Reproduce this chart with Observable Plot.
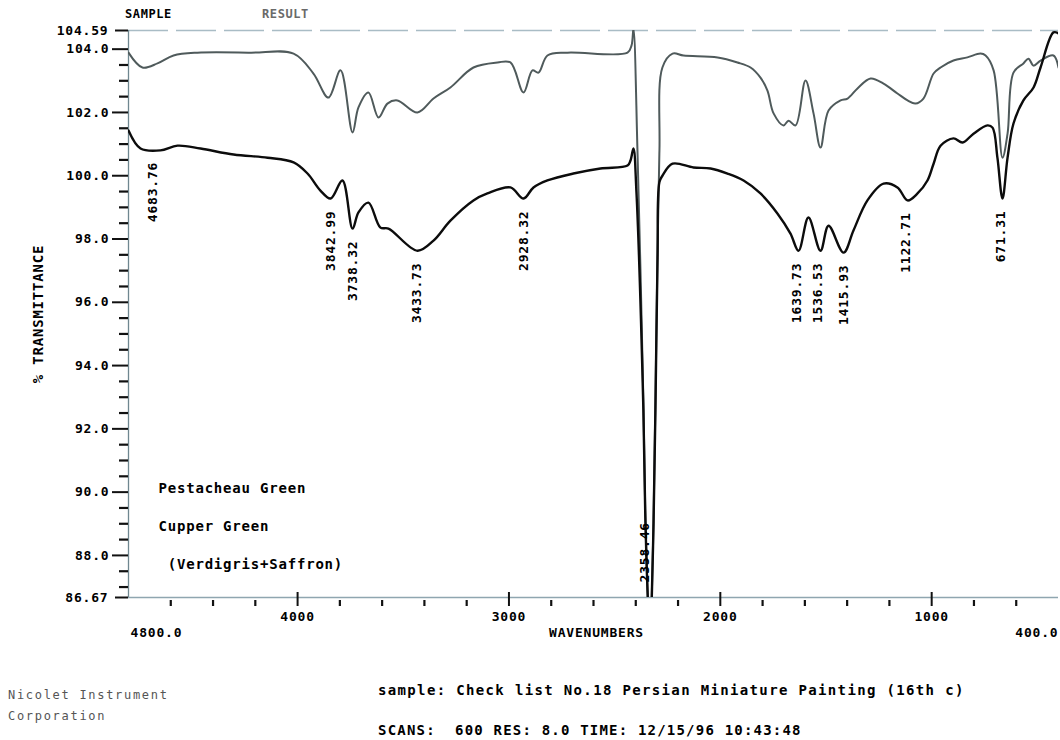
<!DOCTYPE html>
<html><head><meta charset="utf-8">
<script src="https://cdn.jsdelivr.net/npm/d3@7"></script>
<script src="https://cdn.jsdelivr.net/npm/@observablehq/plot@0.6"></script>
<style>
html,body{margin:0;padding:0;background:#fff;}
body{width:1060px;height:740px;position:relative;overflow:hidden;font-family:"DejaVu Sans Mono",monospace;}
#chart{position:absolute;left:0;top:0;}
#chart svg text{letter-spacing:0.8px;}
.t{position:absolute;white-space:pre;line-height:1;font-weight:bold;color:#000;}
</style></head><body>
<div id="chart"></div>
<div class="t" style="left:125px;top:8px;font-size:12px;letter-spacing:0.6px;">SAMPLE</div>
<div class="t" style="left:262px;top:8px;font-size:12px;letter-spacing:0.6px;color:#6a6a6a;">RESULT</div>
<div class="t" style="left:8px;top:689px;font-size:12px;font-weight:normal;color:#555;letter-spacing:1.7px;">Nicolet Instrument</div>
<div class="t" style="left:8px;top:710px;font-size:12px;font-weight:normal;color:#555;letter-spacing:1.7px;">Corporation</div>
<div class="t" style="left:378px;top:683px;font-size:14px;letter-spacing:1.35px;">sample: Check list No.18 Persian Miniature Painting (16th c)</div>
<div class="t" style="left:378px;top:723px;font-size:14px;letter-spacing:1.2px;">SCANS:  600 RES: 8.0 TIME: 12/15/96 10:43:48</div>
<script>
// Upper trace (grey)
const upperW = [4800,4734,4663,4587,4474,4223,4019,3925,3854,3797,3740,3712,3665,3617,3575,3528,3433,3357,3277,3168,3054,2993,2931,2889,2860,2818,2723,2439,2420,2411,2392,2364,2354,2340,2330,2326,2316,2307,2297,2288,2274,2226,2174,2013,1919,1857,1810,1777,1748,1701,1677,1644,1597,1559,1526,1488,1431,1398,1351,1289,1228,1162,1114,1077,1039,991,958,897,831,769,745,707,665,641,613,566,542,518,485,424,400];
const upperT = [103.89,103.42,103.55,103.80,103.89,103.89,103.86,103.23,102.47,103.33,101.37,102.16,102.63,101.84,102.28,102.38,102.00,102.44,102.79,103.42,103.58,103.58,102.63,103.33,103.26,103.80,103.89,103.89,104.12,104.65,100.80,92.89,89.10,86.25,85.30,86.25,89.10,92.89,97.63,100.80,103.42,103.86,103.80,103.74,103.58,103.42,103.10,102.69,101.97,101.59,101.74,101.59,103.01,101.97,100.89,102.06,102.38,102.44,102.76,103.07,102.91,102.60,102.38,102.28,102.44,103.23,103.42,103.64,103.74,103.86,103.80,103.33,100.57,101.33,103.26,103.55,103.70,103.48,103.64,103.80,103.42];
// Lower trace (black)
const lowerW = [4800,4743,4649,4568,4459,4303,4142,4019,3953,3892,3844,3788,3740,3712,3665,3608,3570,3433,3357,3277,3168,3102,2993,2931,2884,2818,2695,2567,2439,2425,2411,2397,2364,2354,2340,2330,2326,2316,2307,2297,2288,2274,2226,2127,2046,1966,1890,1810,1729,1668,1630,1583,1526,1488,1417,1370,1304,1228,1162,1114,1067,1020,991,958,897,854,802,736,712,689,665,641,613,566,518,485,424,400];
const lowerT = [101.43,100.86,100.80,100.95,100.86,100.67,100.57,100.42,100.07,99.53,99.28,99.85,98.33,98.84,99.15,98.36,98.33,97.63,97.95,98.58,99.22,99.44,99.63,99.28,99.63,99.85,100.07,100.23,100.32,100.48,100.86,99.50,92.60,89.00,86.20,85.30,86.20,89.00,92.60,97.40,99.80,100.00,100.38,100.26,100.23,100.07,99.85,99.44,98.80,98.17,97.63,98.68,97.63,98.42,97.57,98.27,99.22,99.75,99.63,99.22,99.44,99.85,100.38,100.95,101.18,101.05,101.33,101.59,101.52,100.57,99.28,100.57,101.65,102.38,102.79,103.42,104.53,104.50];
// Peak labels (on scale)
const peakW = [4683.76,3842.99,3738.32,3433.73,2928.32,1639.73,1536.53,1415.93,1122.71,671.31];
const peakT = [100.82,99.28,98.33,97.63,99.28,97.63,97.63,97.57,99.22,99.28];
const peakLabels = ["4683.76","3842.99","3738.32","3433.73","2928.32","1639.73","1536.53","1415.93","1122.71","671.31"];
// Peak below the plotted range
const offPeakW = [2358.46];
const offPeakLabels = ["2358.46"];
// Axes
const yMajor = [104.0,102.0,100.0,98.0,96.0,94.0,92.0,90.0,88.0];
const yEnds = [104.59,86.67];
const yMinor = d3.range(87.0,104.01,0.5).filter(v => Math.abs(v % 2) > 1e-6);
const xMajor = [4000,3000,2000,1000];
const xMinor = d3.range(4600,401,-200).filter(v => v % 1000 !== 0);
const xStartLabel = ["4800.0"];
const xEndLabel = ["400.0"];
const legendLines = ["Pestacheau Green","Cupper Green"," (Verdigris+Saffron)"];

const upper = upperW.map((w,i)=>({w, t: upperT[i]}));
const lower = lowerW.map((w,i)=>({w, t: lowerT[i]}));
const peaks = peakW.map((w,i)=>({w, t: peakT[i], label: peakLabels[i]}));
const offPeaks = offPeakW.map((w,i)=>({w, label: offPeakLabels[i]}));

const axisStroke = "#111";
const chart = Plot.plot({
  width: 1060, height: 740,
  marginLeft: 128, marginRight: 2, marginTop: 30, marginBottom: 143,
  x: {domain: [4800, 400], axis: null, label: null},
  y: {domain: [86.67, 104.59], axis: null, label: null},
  style: {fontFamily: '"DejaVu Sans Mono", monospace', fontWeight: "bold", background: "white", color: "black", fontSize: "13px"},
  marks: [
    Plot.ruleY([104.59], {stroke: "#a9bcc5", strokeWidth: 1.3, strokeDasharray: "40 8"}),
    Plot.ruleY([86.67], {stroke: "#8fa6b0", strokeWidth: 1.3}),
    Plot.ruleX([4800], {stroke: "#6f8790", strokeWidth: 1.3}),
    Plot.line(upper, {x: "w", y: "t", stroke: "#4f5a5b", strokeWidth: 2, clip: true, curve: "catmull-rom"}),
    Plot.line(lower, {x: "w", y: "t", stroke: "#0c0c0c", strokeWidth: 2.4, clip: true, curve: "catmull-rom"}),
    Plot.axisY({ticks: yMajor, tickSize: 16, tickPadding: 3, tickFormat: d => d.toFixed(1), strokeWidth: 2, stroke: axisStroke, label: null, fontSize: 13}),
    Plot.axisY({ticks: yEnds, tickSize: 13, tickPadding: 7, tickFormat: d => d.toFixed(2), strokeWidth: 2, stroke: axisStroke, label: null, fontSize: 13}),
    Plot.axisY({ticks: yMinor, tickSize: 9, tickFormat: () => "", strokeWidth: 2.2, stroke: axisStroke, label: null}),
    Plot.axisX({ticks: xMajor, tickSize: 14, dy: -5, tickFormat: () => "", strokeWidth: 2, stroke: axisStroke, label: null}),
    Plot.axisX({ticks: xMinor, tickSize: 6, dy: 3, tickFormat: () => "", strokeWidth: 2.2, stroke: axisStroke, label: null}),
    Plot.axisX({ticks: xMajor, tickSize: 0, tickPadding: 14, tickFormat: d => String(d), label: null, fontSize: 13}),
    Plot.text(xStartLabel, {frameAnchor: "bottom-left", textAnchor: "start", lineAnchor: "middle", dx: 2, dy: 35, fontSize: 13}),
    Plot.text(xEndLabel, {frameAnchor: "bottom-right", textAnchor: "end", lineAnchor: "middle", dx: 0, dy: 35, fontSize: 13}),
    Plot.text(["WAVENUMBERS"], {frameAnchor: "bottom", lineAnchor: "middle", dx: 3, dy: 35, fontSize: 13}),
    Plot.text(["% TRANSMITTANCE"], {frameAnchor: "left", textAnchor: "middle", rotate: -90, lineAnchor: "middle", dx: -90, fontSize: 14, fill: "black"}),
    Plot.text(peaks, {x: "w", y: "t", text: "label", rotate: -90, textAnchor: "end", lineAnchor: "middle", dy: 12, fontSize: 13, fill: "black"}),
    Plot.text(offPeaks, {x: "w", text: "label", frameAnchor: "bottom", rotate: -90, textAnchor: "start", lineAnchor: "middle", dy: -15, fontSize: 13, fill: "black"}),
    Plot.text([legendLines.join("\n")], {frameAnchor: "bottom-left", textAnchor: "start", lineAnchor: "bottom", dx: 30, dy: -29, lineHeight: 2.68, fontSize: 14, fill: "black"})
  ]
});
document.getElementById("chart").appendChild(chart);
</script>
</body></html>
